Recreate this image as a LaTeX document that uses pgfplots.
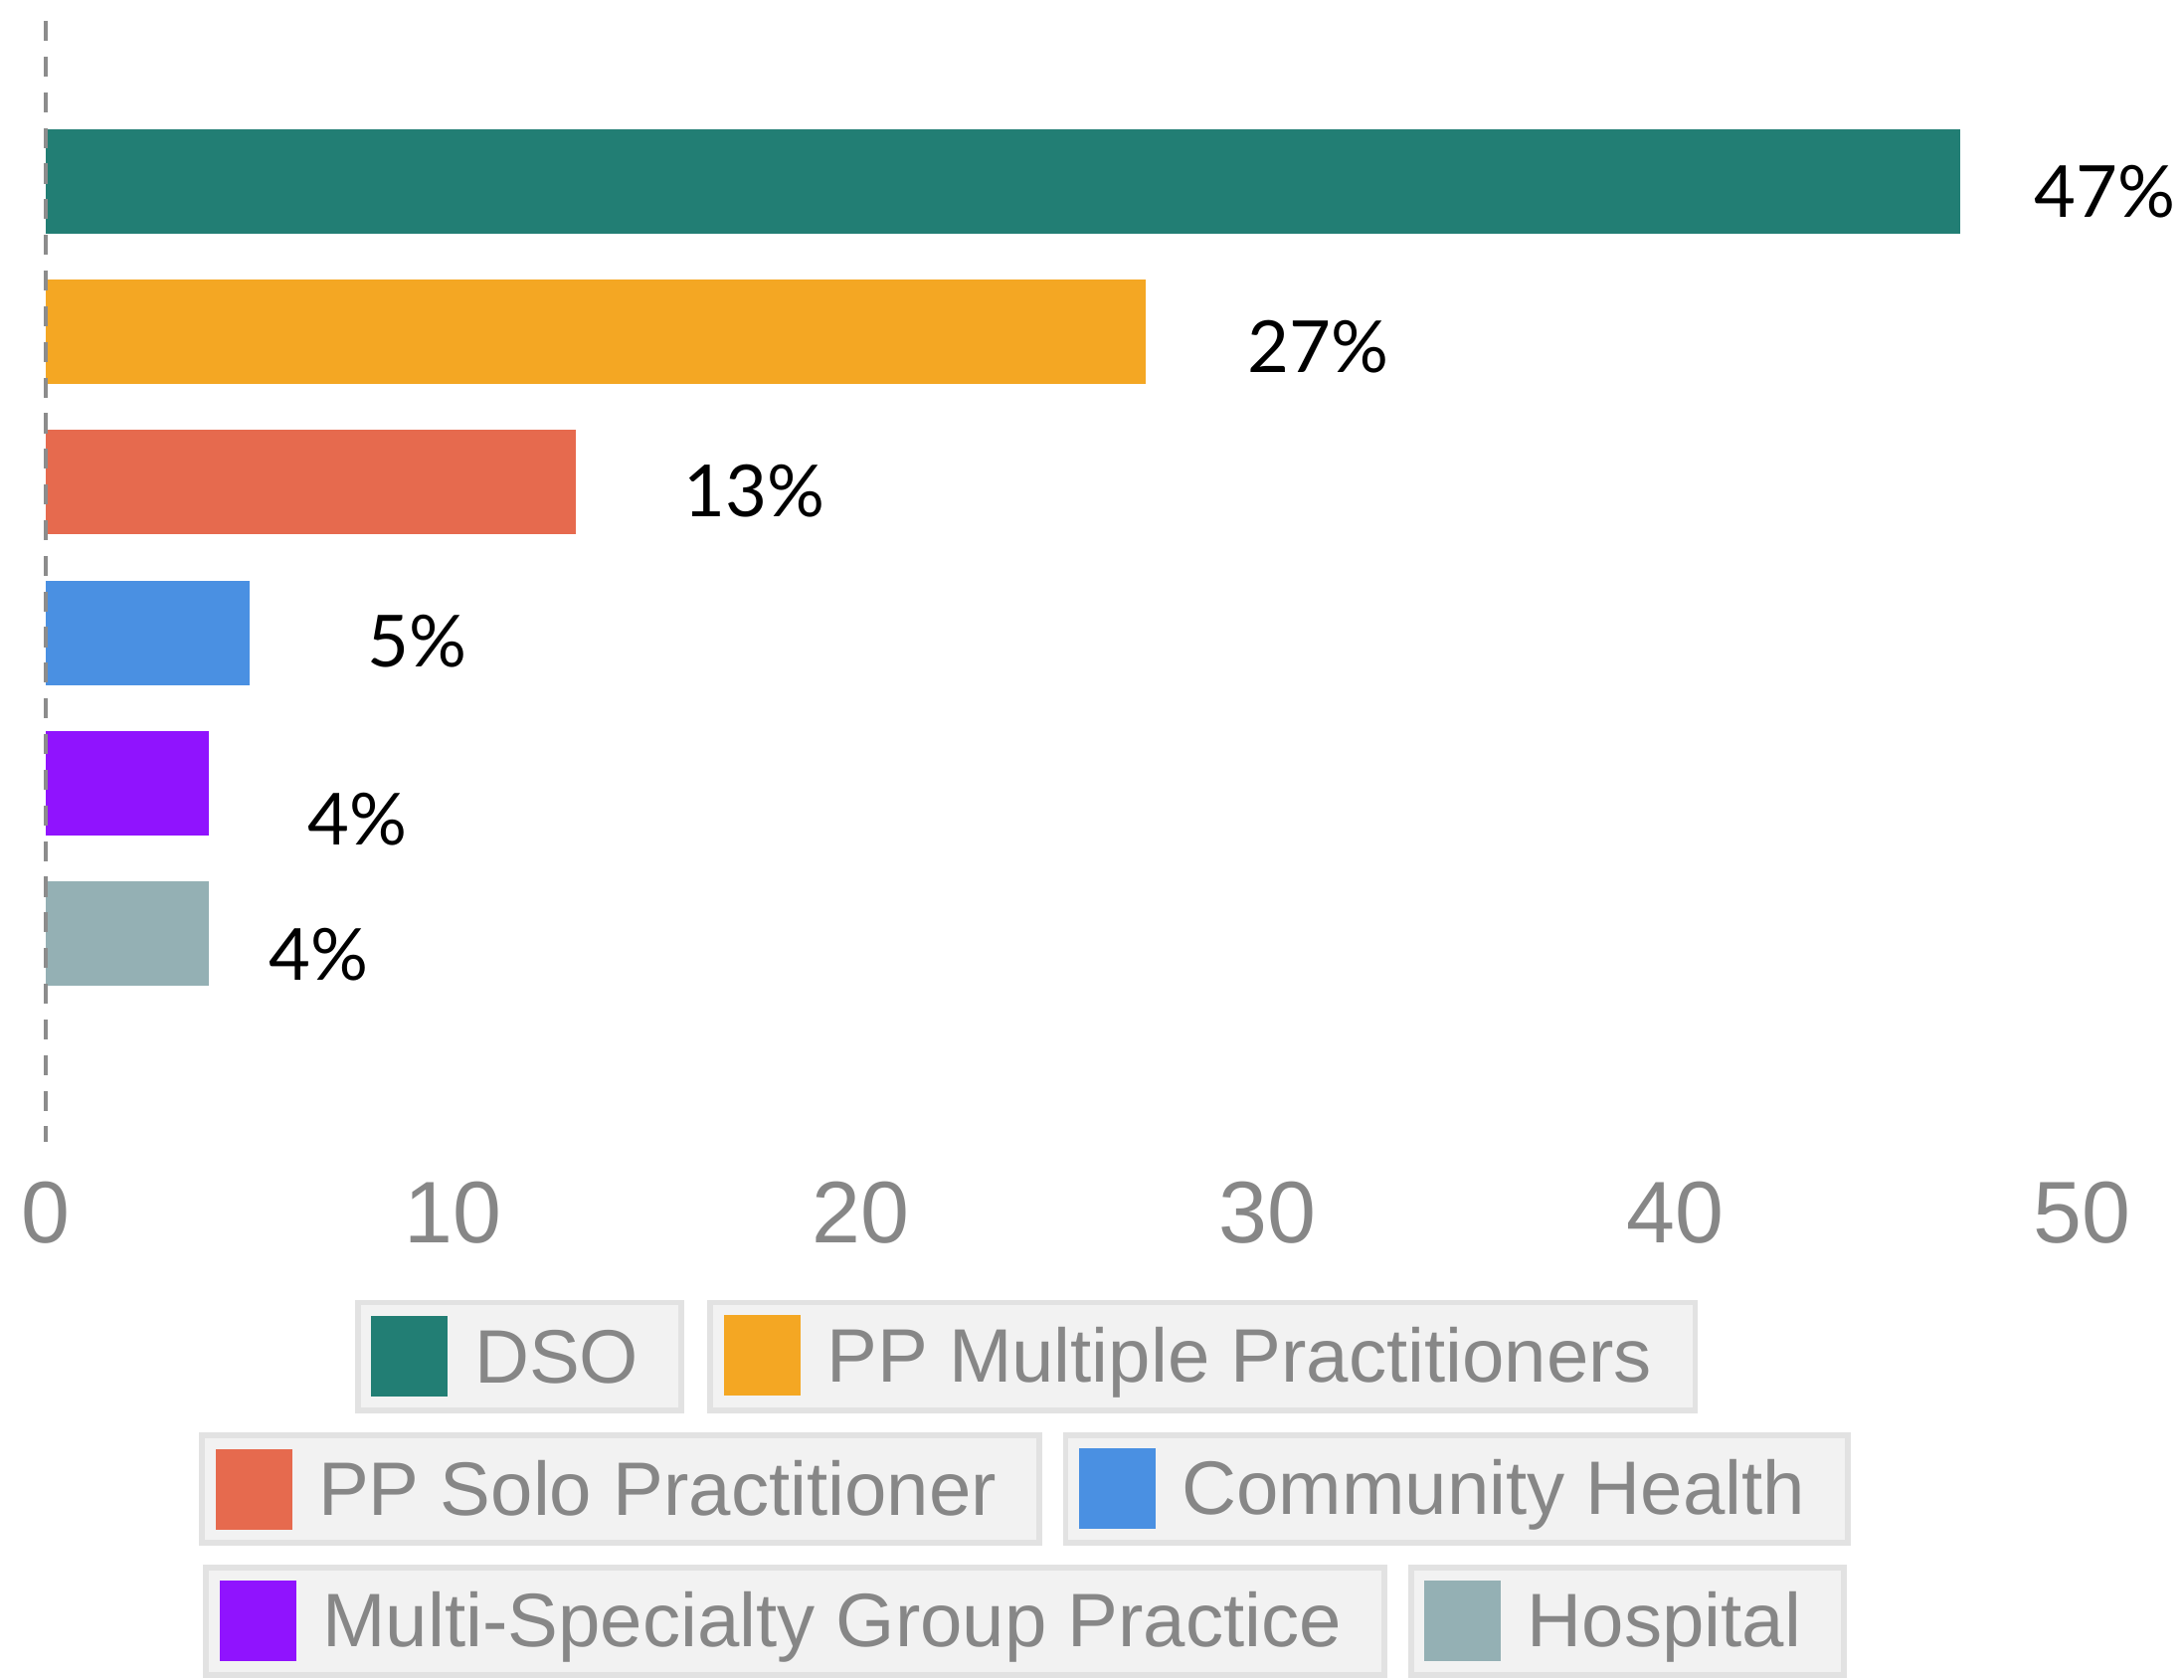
\documentclass[border=0pt]{standalone}
\usepackage{pgfplots}
\pgfplotsset{compat=1.18}
\usepackage{fontspec}
\setmainfont{Liberation Sans}
\newfontfamily\latofont{Lato}
\definecolor{cDSO}{RGB}{34,126,116}
\definecolor{cPPM}{RGB}{244,167,35}
\definecolor{cPPS}{RGB}{230,106,78}
\definecolor{cCH}{RGB}{74,144,226}
\definecolor{cMS}{RGB}{144,19,254}
\definecolor{cHO}{RGB}{148,176,180}
\definecolor{tickgray}{RGB}{135,135,135}
\definecolor{legfill}{RGB}{242,242,242}
\definecolor{legdraw}{RGB}{226,226,226}
\definecolor{dashgray}{RGB}{140,140,140}
\newcommand{\legentry}[4]{%
  \node[anchor=west, draw=legdraw, line width=1pt, fill=legfill, inner xsep=2.4pt, inner ysep=0pt,
        minimum height=19.3pt, font=\fontsize{13.6}{15}\selectfont, text=tickgray]
    at (#1*0.25pt, -#2*0.25pt)
    {\textcolor{#3}{\raisebox{-2.5pt}{\rule{13.75pt}{14.5pt}}}\hspace*{4.75pt}#4\kern5.3pt\null};}
\begin{document}
\begin{tikzpicture}
\path[use as bounding box] (0,0) rectangle (392pt,-301.5pt);
\begin{axis}[
  at={(8.25pt,-205pt)}, anchor=south west,
  scale only axis, width=365.5pt, height=201.25pt,
  xmin=0, xmax=50, ymin=-1.39, ymax=6.07,
  xbar, bar shift=0pt, bar width=18.75pt,
  axis line style={draw=none}, major tick length=0pt,
  ytick=\empty, xtick={0,10,20,30,40,50},
  xticklabel style={font=\fontsize{15.7}{18}\selectfont, text=tickgray, yshift=-3.5pt},
  /pgf/number format/assume math mode=true,
  clip=false,
]
\addplot[fill=cDSO, draw=none] coordinates {(47,5)};
\addplot[fill=cPPM, draw=none] coordinates {(27,4)};
\addplot[fill=cPPS, draw=none] coordinates {(13,3)};
\addplot[fill=cCH, draw=none] coordinates {(5,2)};
\addplot[fill=cMS, draw=none] coordinates {(4,1)};
\addplot[fill=cHO, draw=none] coordinates {(4,0)};
\addplot[dashgray, line width=0.8pt, dash pattern=on 3.6pt off 2.8pt, sharp plot, forget plot] coordinates {(0,6.07) (0,-1.39)};
\begin{scope}[every node/.style={anchor=west, inner sep=0pt, font=\latofont\fontsize{12.9}{15}\selectfont}]
\node at (axis cs:48.8,4.935) {47\%};
\node at (axis cs:29.48,3.90) {27\%};
\node at (axis cs:15.63,2.94) {13\%};
\node at (axis cs:7.87,1.94) {5\%};
\node at (axis cs:6.4,0.76) {4\%};
\node at (axis cs:5.44,-0.14) {4\%};
\end{scope}
\end{axis}
\legentry{255}{973.75}{cDSO}{DSO}
\legentry{508}{973.75}{cPPM}{PP Multiple Practitioners}
\legentry{143}{1069}{cPPS}{PP Solo Practitioner}
\legentry{763}{1069}{cCH}{Community Health}
\legentry{146}{1164}{cMS}{Multi-Specialty Group Practice}
\legentry{1011}{1164}{cHO}{Hospital}
\end{tikzpicture}
\end{document}
